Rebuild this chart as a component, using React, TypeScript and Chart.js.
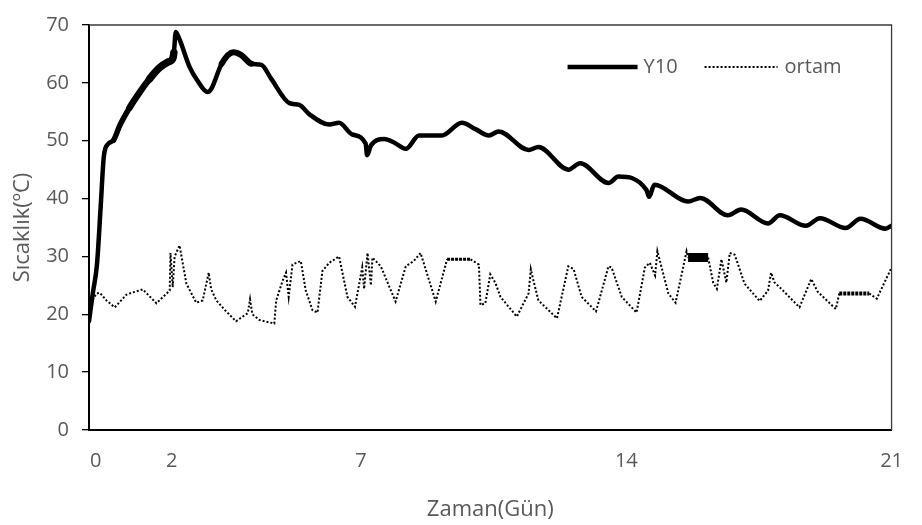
import React, { useEffect, useRef } from "react";
import { Chart, registerables } from "chart.js";

Chart.register(...registerables);

// ---- data ----
const xTickValues = [0, 2, 7, 14, 21];
const yTickValues = [0, 10, 20, 30, 40, 50, 60, 70];

const y10Days = [
  -0.18, -0.08, 0.03, 0.13, 0.21, 0.32, 0.47, 0.63, 0.89, 1.16, 1.42, 1.68,
  1.9, 2.03, 2.06, 2.11, 2.21, 2.47, 2.68, 2.95, 3.05, 3.32, 3.63, 3.84, 4.11,
  4.37, 4.63, 5.11, 5.37, 5.63, 6.16, 6.42, 6.76, 7.12, 7.16, 7.26, 7.61, 7.87,
  8.18, 8.53, 9.13, 9.66, 10.02, 10.37, 10.63, 11.42, 11.68, 12.47, 12.78,
  13.53, 13.79, 14.53, 14.6, 14.74, 15.63, 15.95, 16.68, 17.03, 17.74, 18.05,
  18.74, 19.11, 19.79, 20.18, 20.84, 21.0,
];
const y10Values = [
  18.8, 23.6, 28.6, 38.8, 47.2, 49.4, 50.1, 52.6, 55.7, 58.4, 60.7, 62.6,
  63.6, 64.2, 65.2, 68.8, 67.5, 62.8, 60.4, 58.4, 59.0, 63.3, 65.3, 64.8, 63.3,
  63.1, 60.7, 56.5, 56.2, 54.6, 52.8, 53.1, 51.1, 49.5, 47.5, 49.2, 50.3, 49.7,
  48.6, 50.9, 50.9, 53.1, 52.0, 50.9, 51.6, 48.4, 48.9, 45.0, 46.1,
  42.7, 43.8, 41.5, 40.3, 42.4, 39.5, 40.1, 37.1, 38.1, 35.7, 37.1,
  35.3, 36.6, 34.9, 36.5, 34.8, 35.3,
];

const ortamDays = [
  -0.16, -0.09, 0.02, 0.11, 0.28, 0.5, 0.81, 0.94, 1.24, 1.6, 1.95, 1.97, 2.03,
  2.08, 2.21, 2.39, 2.65, 2.82, 2.98, 3.04, 3.18, 3.44, 3.7, 4.01, 4.07, 4.13,
  4.32, 4.71, 4.76, 4.93, 5.02, 5.09, 5.19, 5.41, 5.54, 5.72, 5.85, 5.98, 6.16,
  6.42, 6.64, 6.84, 7.03, 7.08, 7.17, 7.26, 7.3, 7.52, 7.91, 8.18, 8.39, 8.57,
  8.97, 9.27, 9.89, 10.11, 10.15, 10.28, 10.41, 10.54, 10.68, 11.11, 11.42,
  11.48, 11.55, 11.68, 12.17, 12.47, 12.61, 12.82, 13.2, 13.53, 13.61, 13.79,
  13.88, 14.27, 14.49, 14.62, 14.76, 14.82, 15.11, 15.3, 15.59, 15.63, 15.9,
  16.16, 16.29, 16.39, 16.51, 16.64, 16.73, 16.86, 17.12, 17.52, 17.74, 17.82,
  17.91, 18.09, 18.57, 18.88, 19.05, 19.53, 19.62, 20.41, 20.61, 20.98,
];
const ortamValues = [
  19.05, 22.4, 23.6, 23.7, 22.4, 21.2, 23.4, 23.7, 24.3, 21.9, 24.1, 30.6, 24.7,
  30.0, 31.9, 25.3, 22.0, 22.4, 27.2, 24.4, 22.4, 20.5, 18.8, 20.2, 22.6, 20.0,
  19.0, 18.4, 22.4, 25.8, 27.2, 23.0, 28.6, 29.2, 24.1, 20.7, 20.3, 27.5, 28.9,
  30.0, 23.0, 21.3, 28.1, 24.4, 30.6, 25.0, 29.8, 28.3, 22.2, 28.3, 29.2, 30.6,
  22.2, 29.5, 29.5, 28.6, 21.6, 21.9, 26.9, 25.5, 23.0, 19.6, 23.6,
  27.8, 25.8, 22.4, 19.3, 28.3, 27.8, 23.0, 20.5, 28.3, 28.1, 24.7,
  23.0, 20.3, 28.1, 28.9, 26.7, 30.9, 23.6, 22.0, 30.9, 29.8, 29.8,
  29.8, 25.5, 24.4, 29.5, 25.5, 30.6, 30.3, 25.3, 22.3, 24.1, 27.2,
  25.5, 24.4, 21.2, 26.1, 23.9, 20.9, 23.6, 23.6, 22.7, 27.8,
];

// day ranges where the reference draws the lines heavier (style only)
const y10HeavyRanges = [
  [0.45, 0.9, 5.5],
  [0.88, 1.5, 6.5],
  [1.4, 2.07, 7.5],
  [3.3, 4.2, 6],
];
const ortamHeavyRanges = [
  [15.62, 16.17, 9, 0],
  [9.26, 9.9, 3, 1],
  [19.61, 20.42, 4, 1],
];

const seriesNames = ["Y10", "ortam"];
const xTitle = "Zaman(Gün)";
const yTitle = "Sıcaklık(ºC)";

const FONT = "'Open Sans', 'Noto Sans', sans-serif";
const TEXT = "#595959";

const overlayPlugin = {
  id: "overlay",
  afterDraw(chart: any) {
    const { ctx, chartArea: a } = chart;
    ctx.save();
    // top and right frame
    ctx.strokeStyle = "#3a3a3a";
    ctx.lineWidth = 1.3;
    ctx.setLineDash([]);
    ctx.beginPath();
    ctx.moveTo(a.left, a.top);
    ctx.lineTo(a.right, a.top);
    ctx.lineTo(a.right, a.bottom);
    ctx.stroke();

    // legend inside the plot, top right
    const ly = a.top + 42;
    const ds = chart.data.datasets;
    const items = [
      { x0: a.right - 324, x1: a.right - 254, tx: a.right - 248 },
      { x0: a.right - 187, x1: a.right - 114, tx: a.right - 107 },
    ];
    items.forEach((it, i) => {
      const d = ds[i];
      ctx.strokeStyle = d.borderColor;
      ctx.lineWidth = d.borderWidth;
      ctx.setLineDash(d.borderDash || []);
      ctx.lineCap = "butt";
      ctx.beginPath();
      ctx.moveTo(it.x0, ly);
      ctx.lineTo(it.x1, ly);
      ctx.stroke();
      ctx.setLineDash([]);
      ctx.fillStyle = TEXT;
      ctx.font = `20px ${FONT}`;
      ctx.textBaseline = "middle";
      ctx.textAlign = "left";
      ctx.fillText(d.label, it.tx, ly);
    });
    ctx.restore();
  },
};

function inRange(days: number[], c: any, r: number[]) {
  const x0 = days[c.p0DataIndex];
  const x1 = days[c.p1DataIndex];
  return x0 >= r[0] && x1 <= r[1];
}

export default function App() {
  const ref = useRef<HTMLCanvasElement>(null);
  useEffect(() => {
    const canvas = ref.current!;
    const chart = new Chart(canvas, {
      type: "line",
      data: {
        datasets: [
          {
            label: seriesNames[0],
            data: y10Days.map((d, i) => ({ x: d, y: y10Values[i] })),
            borderColor: "#000",
            borderWidth: 4.5,
            pointRadius: 0,
            cubicInterpolationMode: "monotone",
            borderJoinStyle: "round",
            borderCapStyle: "round",
            fill: false,
            segment: {
              borderWidth: (c: any) => {
                for (const r of y10HeavyRanges) if (inRange(y10Days, c, r)) return r[2];
                return undefined;
              },
            },
          },
          {
            label: seriesNames[1],
            data: ortamDays.map((d, i) => ({ x: d, y: ortamValues[i] })),
            borderColor: "#000",
            borderWidth: 2,
            borderDash: [2, 2],
            pointRadius: 0,
            tension: 0,
            fill: false,
            segment: {
              borderWidth: (c: any) => {
                for (const r of ortamHeavyRanges) if (inRange(ortamDays, c, r)) return r[2];
                return undefined;
              },
              borderDash: (c: any) => {
                for (const r of ortamHeavyRanges)
                  if (inRange(ortamDays, c, r)) return r[3] ? [3, 1] : [];
                return undefined;
              },
            },
          },
        ],
      },
      options: {
        animation: false,
        responsive: false,
        devicePixelRatio: 1,
        layout: { padding: { left: 0, right: 28, top: 15, bottom: 0 } },
        plugins: {
          legend: { display: false },
          tooltip: { enabled: false },
        },
        scales: {
          x: {
            type: "linear",
            min: -0.18,
            max: 21,
            afterBuildTicks: (scale: any) => {
              scale.ticks = xTickValues.map((v) => ({ value: v }));
            },
            afterFit: (scale: any) => {
              scale.height = 95;
            },
            grid: { display: false, drawTicks: false },
            border: { display: true, color: "#000", width: 2 },
            ticks: {
              autoSkip: false,
              maxRotation: 0,
              padding: 19,
              color: TEXT,
              font: { family: FONT, size: 20 },
              callback: (v: any) => String(v),
            },
            title: {
              display: true,
              text: xTitle,
              color: TEXT,
              font: { family: FONT, size: 22 },
              padding: { top: 0, bottom: 2 },
            },
          },
          y: {
            type: "linear",
            min: 0,
            max: 70,
            afterBuildTicks: (scale: any) => {
              scale.ticks = yTickValues.map((v) => ({ value: v }));
            },
            afterFit: (scale: any) => {
              scale.width = 89;
            },
            grid: {
              display: true,
              drawOnChartArea: false,
              drawTicks: true,
              tickLength: 7,
              color: "#000",
              lineWidth: 1.3,
            },
            border: { display: true, color: "#000", width: 2 },
            ticks: {
              padding: 13,
              color: TEXT,
              font: { family: FONT, size: 20 },
            },
            title: {
              display: true,
              text: yTitle,
              color: TEXT,
              font: { family: FONT, size: 22 },
              padding: { top: 10, bottom: 0 },
            },
          },
        },
      },
      plugins: [overlayPlugin],
    } as any);
    return () => chart.destroy();
  }, []);
  return (
    <div
      style={{
        position: "fixed",
        left: 0,
        top: 0,
        width: 922,
        height: 525,
        background: "#fff",
      }}
    >
      <canvas ref={ref} width={922} height={525} />
    </div>
  );
}
